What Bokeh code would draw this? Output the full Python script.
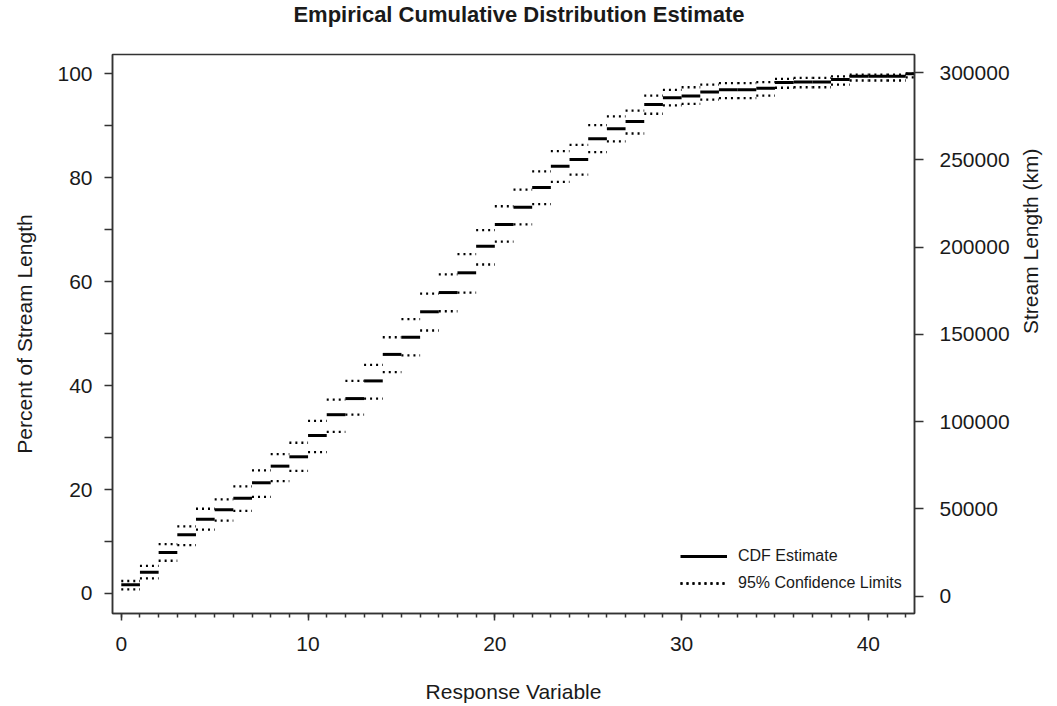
import math
from bokeh.plotting import figure
from bokeh.models import (Range1d, LinearAxis, FixedTicker, Legend, LegendItem,
                          ColumnDataSource, BasicTickFormatter, Div)
from bokeh.layouts import column
from bokeh.embed import file_html
from bokeh.resources import INLINE

# ---- data ----
step_start = [0, 1, 2, 3, 4, 5, 6, 7, 8, 9, 10, 11, 12, 13, 14, 15, 16, 17, 18, 19, 20,
              21, 22, 23, 24, 25, 26, 27, 28, 29, 30, 31, 32, 33, 34, 35, 36, 37, 38, 39,
              40, 41, 42]
step_end = [1, 2, 3, 4, 5, 6, 7, 8, 9, 10, 11, 12, 13, 14, 15, 16, 17, 18, 19, 20, 21,
            22, 23, 24, 25, 26, 27, 28, 29, 30, 31, 32, 33, 34, 35, 36, 37, 38, 39, 40,
            41, 42, 43]
cdf_estimate = [1.7, 4.1, 7.9, 11.3, 14.3, 16.1, 18.3, 21.3, 24.5, 26.3, 30.4, 34.4, 37.5,
                40.9, 46.0, 49.3, 54.2, 57.9, 61.7, 66.8, 71.0, 74.3, 78.1, 82.2, 83.5,
                87.5, 89.4, 90.8, 94.1, 95.4, 95.7, 96.5, 96.9, 96.9, 97.2, 98.3, 98.4,
                98.4, 98.9, 99.5, 99.5, 99.5, 100.0]
upper_limit = [2.4, 5.3, 9.5, 12.9, 16.3, 18.1, 20.6, 23.7, 26.8, 29.0, 33.2, 37.3, 40.9,
               44.0, 49.3, 52.8, 57.7, 61.4, 65.3, 69.9, 74.5, 77.7, 81.2, 85.1, 86.3,
               90.1, 91.8, 92.9, 95.8, 96.9, 97.4, 97.9, 98.2, 98.2, 98.4, 99.0, 99.2,
               99.2, 99.5, 99.8, 99.8, 99.8, 100.0]
lower_limit = [0.8, 2.9, 6.3, 9.3, 12.3, 14.0, 15.9, 18.6, 21.6, 23.6, 27.2, 31.1, 34.4,
               37.5, 42.6, 45.8, 50.6, 54.3, 57.9, 63.3, 67.7, 71.0, 74.9, 79.2, 80.6,
               84.9, 87.0, 88.5, 92.3, 93.9, 94.2, 95.0, 95.3, 95.3, 95.8, 97.3, 97.4,
               97.4, 97.9, 98.7, 98.7, 98.7, 99.3]

x_major_ticks = [0, 10, 20, 30, 40]
x_minor_ticks = [0, 1, 2, 3, 4, 5, 6, 7, 8, 9, 10, 11, 12, 13, 14, 15, 16, 17, 18, 19, 20,
                 21, 22, 23, 24, 25, 26, 27, 28, 29, 30, 31, 32, 33, 34, 35, 36, 37, 38,
                 39, 40, 41, 42]
pct_major_ticks = [0, 20, 40, 60, 80, 100]
pct_minor_ticks = [10, 30, 50, 70, 90]
km_ticks = [0, 50000, 100000, 150000, 200000, 250000, 300000]

TITLE = "Empirical Cumulative Distribution Estimate"
TXT = "#1a1a1a"
AX = "#333333"

src = ColumnDataSource(dict(x0=step_start, x1=step_end, cdf=cdf_estimate,
                            up=upper_limit, lo=lower_limit))

TITLE_H = 30

title_div = Div(text=TITLE, width=1038, height=TITLE_H, margin=(0, 0, 0, 0),
                styles={"font-family": "Liberation Sans", "font-size": "22px",
                        "font-weight": "bold", "color": TXT, "text-align": "center",
                        "line-height": "30px"})

p = figure(width=1057, height=706 - TITLE_H,
           x_range=Range1d(-0.47, 42.47), y_range=Range1d(-3.85, 103.7),
           output_backend="svg", toolbar_location=None,
           min_border_left=112, min_border_right=143,
           min_border_top=54 - TITLE_H, min_border_bottom=93,
           x_axis_label="Response Variable",
           y_axis_label="Percent of Stream Length")
p.margin = (0, 0, 0, 0)

p.background_fill_color = "white"
p.border_fill_color = "white"
p.outline_line_color = AX
p.outline_line_width = 1.5
p.xgrid.visible = False
p.ygrid.visible = False

p.extra_y_ranges = {"km": Range1d(-9910, 310314)}
right_axis = LinearAxis(y_range_name="km", axis_label="Stream Length (km)")
p.add_layout(right_axis, "right")

xa = p.xaxis[0]
xa.ticker = FixedTicker(ticks=x_major_ticks, minor_ticks=x_minor_ticks)
xa.major_tick_out = 7
xa.major_tick_in = 0
xa.minor_tick_out = 4
xa.minor_tick_in = 0
xa.major_label_standoff = 16
xa.axis_label_standoff = 26

ya = p.yaxis[0]
ya.ticker = FixedTicker(ticks=pct_major_ticks, minor_ticks=pct_minor_ticks)
ya.major_tick_out = 8
ya.major_tick_in = 0
ya.minor_tick_out = 8
ya.minor_tick_in = 0
ya.major_label_standoff = 12
ya.axis_label_standoff = 18

right_axis.ticker = FixedTicker(ticks=km_ticks, minor_ticks=[])
right_axis.formatter = BasicTickFormatter(use_scientific=False)
right_axis.major_tick_out = 9
right_axis.major_tick_in = 0
right_axis.minor_tick_out = 0
right_axis.minor_tick_in = 0
right_axis.major_label_standoff = 16
right_axis.axis_label_standoff = 18
right_axis.axis_label_orientation = math.pi / 2

for ax in (xa, ya, right_axis):
    ax.axis_line_color = AX
    ax.axis_line_width = 1.5
    ax.major_tick_line_color = AX
    ax.major_tick_line_width = 1.5
    ax.minor_tick_line_color = AX
    ax.minor_tick_line_width = 1.5
    ax.major_label_text_font = "Liberation Sans"
    ax.major_label_text_font_size = "21px"
    ax.major_label_text_color = TXT
    ax.axis_label_text_font = "Liberation Sans"
    ax.axis_label_text_font_size = "21px"
    ax.axis_label_text_font_style = "normal"
    ax.axis_label_text_color = TXT

r_up = p.segment(x0="x0", y0="up", x1="x1", y1="up", source=src,
                 line_color="black", line_width=2.3, line_dash="2 4", line_cap="butt")
r_lo = p.segment(x0="x0", y0="lo", x1="x1", y1="lo", source=src,
                 line_color="black", line_width=2.3, line_dash="2 4", line_cap="butt")
r_cdf = p.segment(x0="x0", y0="cdf", x1="x1", y1="cdf", source=src,
                  line_color="black", line_width=3)

legend = Legend(items=[LegendItem(label="CDF Estimate", renderers=[r_cdf]),
                       LegendItem(label="95% Confidence Limits", renderers=[r_up, r_lo])],
                location=(568, 18))
legend.glyph_width = 47
legend.glyph_height = 24
legend.label_height = 24
legend.label_standoff = 11
legend.spacing = 3
legend.padding = 0
legend.margin = 0
legend.border_line_color = None
legend.background_fill_alpha = 0
legend.label_text_font = "Liberation Sans"
legend.label_text_font_size = "16px"
legend.label_text_color = TXT
p.add_layout(legend)

layout = column(title_div, p, spacing=0)
layout.margin = (0, 0, 0, 0)

open("out.html", "w").write(file_html(layout, INLINE))
